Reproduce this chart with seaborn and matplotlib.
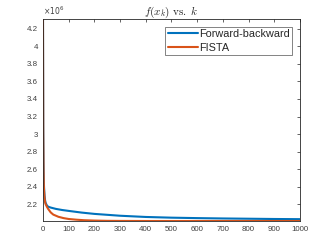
import pandas as pd
import matplotlib
matplotlib.use("Agg")
import matplotlib.pyplot as plt
from matplotlib.ticker import FuncFormatter, MultipleLocator
import seaborn as sns

# iterations and objective values
k_fb = [0, 1, 2, 3, 4, 6, 8, 10, 15, 20, 30, 50, 75, 100, 150, 200, 300,
        400, 500, 600, 700, 800, 900, 1000]
f_fb = [4.31e6, 3.10e6, 2.70e6, 2.50e6, 2.40e6, 2.30e6, 2.25e6, 2.22e6,
        2.19e6, 2.175e6, 2.165e6, 2.150e6, 2.137e6, 2.127e6, 2.108e6,
        2.093e6, 2.072e6, 2.058e6, 2.050e6, 2.045e6, 2.041e6, 2.038e6,
        2.035e6, 2.033e6]

k_fista = [0, 1, 2, 3, 4, 6, 8, 10, 15, 20, 30, 40, 60, 80, 100, 130, 160,
           200, 250, 300, 400, 600, 800, 1000]
f_fista = [4.31e6, 3.00e6, 2.60e6, 2.45e6, 2.36e6, 2.27e6, 2.23e6, 2.205e6,
           2.175e6, 2.150e6, 2.110e6, 2.085e6, 2.060e6, 2.045e6, 2.035e6,
           2.027e6, 2.021e6, 2.017e6, 2.014e6, 2.013e6, 2.012e6, 2.012e6,
           2.012e6, 2.012e6]

series = ["Forward-backward", "FISTA"]
colors = ["#0072BD", "#D95319"]

df = pd.concat([
    pd.DataFrame({"k": k_fb, "f": f_fb, "method": series[0]}),
    pd.DataFrame({"k": k_fista, "f": f_fista, "method": series[1]}),
])

sns.set_style("white")
plt.rcParams["font.family"] = ["Liberation Sans", "DejaVu Sans"]
plt.rcParams["mathtext.fontset"] = "cm"

fig = plt.figure(figsize=(3.32, 2.49), dpi=100)
ax = fig.add_axes([0.1295, 0.1124, 0.7741, 0.8113])

sns.lineplot(data=df, x="k", y="f", hue="method", hue_order=series,
             palette=colors, linewidth=1.5, ax=ax, sort=False)

ax.set_xlim(0, 1000)
ax.set_ylim(min(f_fista), max(f_fb))
ax.xaxis.set_major_locator(MultipleLocator(100))
ax.yaxis.set_major_locator(MultipleLocator(0.2e6))
ax.yaxis.set_major_formatter(FuncFormatter(lambda v, p: "%g" % round(v / 1e6, 1)))
ax.set_xlabel("")
ax.set_ylabel("")

ax.tick_params(direction="in", length=2.5, width=0.5, labelsize=5.7,
               colors="#262626", labelcolor="#404040", top=True, right=True,
               pad=3.5)
for s in ax.spines.values():
    s.set_linewidth(0.6)
    s.set_color("#262626")

ax.text(0.0, 1.01, r"$\times10^{6}$", transform=ax.transAxes, fontsize=5.5,
        color="#404040", ha="left", va="bottom", math_fontfamily="dejavusans")
ax.set_title(r"$f(x_k)\ \mathrm{vs.}\ k$", fontsize=8, pad=3)

leg = ax.legend(loc="upper right", fontsize=7.8, frameon=True, fancybox=False,
                borderpad=0.25, handlelength=2.8, handletextpad=0.1,
                labelspacing=0.3, borderaxespad=0.7)
leg.get_frame().set_edgecolor("#262626")
leg.get_frame().set_linewidth(0.5)

fig.savefig("out.png", dpi=100)
